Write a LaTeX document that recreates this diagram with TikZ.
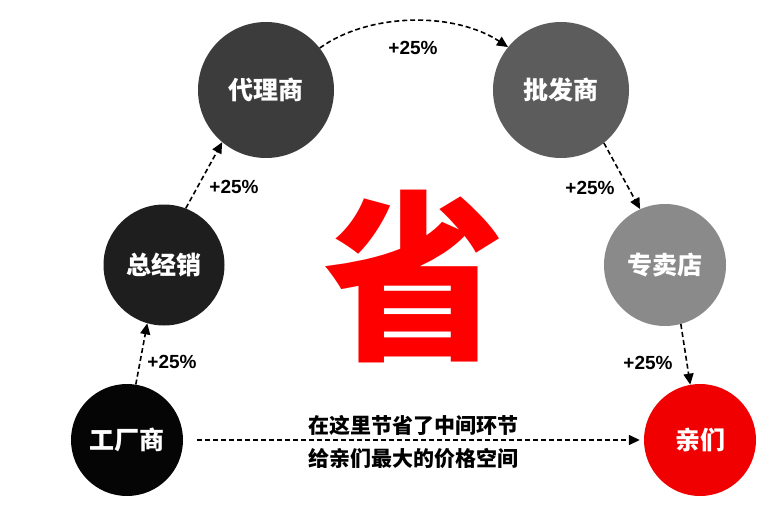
\documentclass[tikz,border=0pt]{standalone}
\usepackage{fontspec}
\setmainfont{Liberation Sans}
\newfontfamily\cjk{Noto Sans CJK SC}
\usetikzlibrary{arrows.meta}
\definecolor{cA}{HTML}{050505}
\definecolor{cB}{HTML}{1E1E1E}
\definecolor{cC}{HTML}{3C3C3C}
\definecolor{cD}{HTML}{5C5C5C}
\definecolor{cE}{HTML}{8A8A8A}
\definecolor{cF}{HTML}{F00000}
\begin{document}
\begin{tikzpicture}[x=1pt,y=-1pt,
  ball/.style={circle,inner sep=0pt,text=white,font=\cjk\bfseries\fontsize{25}{25}\selectfont},
  flow/.style={dashed,dash pattern=on 5pt off 3pt,line width=1.6pt,-{Triangle[length=11pt,width=10pt]}},
  pct/.style={font=\bfseries\fontsize{19}{19}\selectfont},
  note/.style={font=\cjk\bfseries\fontsize{21}{21}\selectfont}]
\useasboundingbox (0,0) rectangle (779,516);
\fill[white] (0,0) rectangle (779,516);
\node[ball,fill=cA,minimum size=112pt] (gc) at (127,440) {工厂商};
\node[ball,fill=cB,minimum size=121pt] (zj) at (164,265) {总经销};
\node[ball,fill=cC,minimum size=136pt] (dl) at (266,90) {代理商};
\node[ball,fill=cD,minimum size=136pt] (pf) at (561,90) {批发商};
\node[ball,fill=cE,minimum size=122pt] (zm) at (665,265) {专卖店};
\node[ball,fill=cF,minimum size=112pt] (qm) at (700,440) {亲们};
\node[text=red,font=\cjk\bfseries\fontsize{182}{182}\selectfont] (sheng) at (414,277) {省};
\draw[flow] (gc.81) -- (zj.254);
\draw[flow] (zj.69) -- (dl.230);
\draw[flow] (dl.38) .. controls (370,12) and (455,12) .. (pf.141);
\draw[flow] (pf.309) -- (zm.114);
\draw[flow] (zm.285) -- (qm.100);
\draw[flow,shorten <=14pt,shorten >=4pt] (gc.east) -- (qm.west);
\node[pct] (p1) at (172,362) {+25\%};
\node[pct] (p2) at (234,187) {+25\%};
\node[pct] (p3) at (413,48) {+25\%};
\node[pct] (p4) at (590,188) {+25\%};
\node[pct] (p5) at (648,363) {+25\%};
\node[note] (t1) at (413,425) {在这里节省了中间环节};
\node[note] (t2) at (413,458) {给亲们最大的价格空间};
\end{tikzpicture}
\end{document}
